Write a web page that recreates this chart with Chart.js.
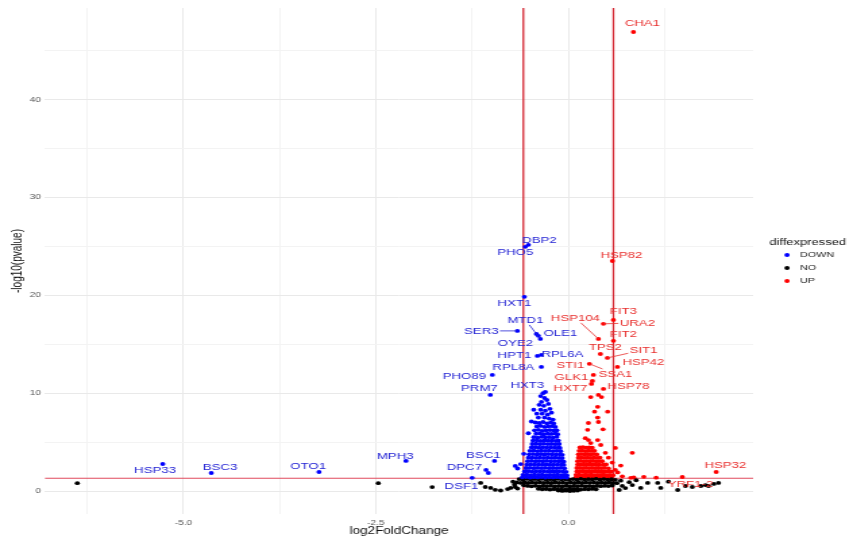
<!DOCTYPE html>
<html><head><meta charset="utf-8">
<script src="https://cdn.jsdelivr.net/npm/chart.js@4.4.1/dist/chart.umd.min.js"></script>
<style>
html,body{margin:0;padding:0;background:#fff;overflow:hidden;width:853px;height:540px;}
#wrap{position:absolute;left:0;top:0;width:632px;height:540px;transform:scaleX(1.34968);transform-origin:0 0;}
canvas{display:block;}
</style></head><body>
<div id="wrap"><canvas id="c" width="632" height="540"></canvas></div>
<script>
// ---------- data (log2FoldChange, -log10(pvalue)) ----------
const groups = ['DOWN', 'NO', 'UP'];
const groupColors = ['#0000ff', '#000000', '#ff0000'];

const xTickValues = [-6.25, -5, -3.75, -2.5, -1.25, 0, 1.25];
const xTickLabels = ['', '-5.0', '', '-2.5', '', '0.0', ''];
const yTickValues = [0, 5, 10, 15, 20, 25, 30, 35, 40, 45];
const yTickLabels = ['0', '', '10', '', '20', '', '30', '', '40', ''];

const lfcCutoffs = [-0.585, 0.585];
const pCutoff = 1.301;

// labelled genes
const geneNames = ['CHA1','DBP2','PHO5','HSP82','HXT1','MTD1','SER3','OLE1','OYE2','HPT1','RPL6A','RPL8A','PHO89','PRM7','HXT3','HSP104','FIT3','URA2','FIT2','TPS2','SIT1','HSP42','STI1','SSA1','GLK1','HXT7','HSP78','HSP33','BSC3','OTO1','MPH3','BSC1','DPC7','DSF1','HSP32','YRF1-2'];
const geneGroup = ['UP','DOWN','DOWN','UP','DOWN','DOWN','DOWN','DOWN','DOWN','DOWN','DOWN','DOWN','DOWN','DOWN','DOWN','UP','UP','UP','UP','UP','UP','UP','UP','UP','UP','UP','UP','DOWN','DOWN','DOWN','DOWN','DOWN','DOWN','DOWN','UP','UP'];
const geneLfc = [0.845,-0.52,-0.56,0.572,-0.572,-0.364,-0.663,-0.39,-0.416,-0.403,-0.351,-0.351,-0.988,-1.014,-0.30,0.39,0.585,0.455,0.585,0.416,0.507,0.637,0.325,0.273,0.312,0.30,0.455,-5.27,-4.64,-3.24,-2.11,-0.96,-1.07,-1.25,1.92,1.48];
const geneLogP = [46.9,25.15,24.95,23.5,19.84,15.54,16.36,15.85,16.05,13.8,13.9,12.68,11.86,9.82,10.12,15.54,17.48,17.08,15.34,14.0,13.6,12.68,11.86,12.99,11.25,10.94,10.43,2.76,1.84,1.94,3.07,3.07,2.15,1.35,1.94,1.43];
const labelLfc = [0.962,-0.377,-0.689,0.689,-0.702,-0.559,-1.131,-0.104,-0.689,-0.702,-0.078,-0.715,-1.352,-1.157,-0.533,0.091,0.715,0.897,0.715,0.481,0.975,0.975,0.026,0.611,0.039,0.026,0.78,-5.37,-4.525,-3.38,-2.25,-1.105,-1.352,-1.39,2.04,1.586];
const labelLogP = [47.75,25.66,24.34,24.13,19.22,17.48,16.36,16.16,15.13,13.9,14.0,12.68,11.76,10.53,10.84,17.69,18.4,17.18,16.05,14.72,14.42,13.19,12.88,11.96,11.66,10.53,10.74,2.15,2.45,2.56,3.58,3.68,2.45,0.51,2.66,0.72];
const segmentGenes = ['MTD1','SER3','HSP104','URA2','SIT1','SSA1'];

const downPoints = [
[-0.33,10.0],[-0.36,9.7],[-0.31,9.5],[-0.35,9.1],[-0.28,9.3],[-0.38,8.8],[-0.32,8.7],[-0.26,8.9],[-0.45,8.3],[-0.36,8.3],[-0.30,8.2],[-0.24,8.4],[-0.41,7.9],[-0.34,7.9],[-0.27,7.8],[-0.22,8.0],[-0.48,7.1],[-0.39,7.5],[-0.31,7.5],[-0.25,7.4],[-0.20,7.3],
[-0.43,7.0],[-0.38,6.95],[-0.33,7.05],[-0.28,6.9],[-0.23,7.0],[-0.19,6.9],
[-0.41,6.6],[-0.36,6.65],[-0.31,6.55],[-0.26,6.6],[-0.21,6.62],[-0.17,6.55],
[-0.44,6.2],[-0.39,6.25],[-0.34,6.15],[-0.29,6.2],[-0.24,6.22],[-0.19,6.18],[-0.15,6.2],
[-0.52,5.9],[-0.42,5.85],[-0.37,5.88],[-0.32,5.8],[-0.27,5.86],[-0.22,5.83],[-0.17,5.87],[-0.14,5.8],
[-0.45,5.5],[-0.40,5.45],[-0.35,5.52],[-0.30,5.48],[-0.25,5.5],[-0.20,5.46],[-0.15,5.52],
[-0.46,5.15],[-0.41,5.18],[-0.36,5.12],[-0.31,5.16],[-0.26,5.14],[-0.21,5.17],[-0.16,5.12],[-0.13,5.15],
[-0.47,4.8],[-0.42,4.83],[-0.37,4.78],[-0.32,4.82],[-0.27,4.79],[-0.22,4.81],[-0.17,4.78],[-0.12,4.8],
[-0.48,4.45],[-0.43,4.47],[-0.38,4.43],[-0.33,4.46],[-0.28,4.44],[-0.23,4.47],[-0.18,4.43],[-0.13,4.45],[-0.11,4.4],
[-0.50,4.1],[-0.45,4.12],[-0.40,4.08],[-0.35,4.11],[-0.30,4.09],[-0.25,4.12],[-0.20,4.08],[-0.15,4.1],[-0.10,4.07],
[-0.58,3.8],[-0.51,3.75],[-0.46,3.77],[-0.41,3.73],[-0.36,3.76],[-0.31,3.74],[-0.26,3.77],[-0.21,3.73],[-0.16,3.75],[-0.11,3.74],[-0.08,3.7],
[-0.52,3.4],[-0.47,3.42],[-0.42,3.38],[-0.37,3.41],[-0.32,3.39],[-0.27,3.42],[-0.22,3.38],[-0.17,3.4],[-0.12,3.39],[-0.08,3.36],
[-0.53,3.05],[-0.48,3.07],[-0.43,3.03],[-0.38,3.06],[-0.33,3.04],[-0.28,3.07],[-0.23,3.03],[-0.18,3.05],[-0.13,3.04],[-0.09,3.06],[-0.06,3.0],
[-0.62,2.75],[-0.54,2.7],[-0.49,2.72],[-0.44,2.68],[-0.39,2.71],[-0.34,2.69],[-0.29,2.72],[-0.24,2.68],[-0.19,2.7],[-0.14,2.69],[-0.09,2.71],[-0.06,2.66],
[-0.55,2.35],[-0.50,2.37],[-0.45,2.33],[-0.40,2.36],[-0.35,2.34],[-0.30,2.37],[-0.25,2.33],[-0.20,2.35],[-0.15,2.34],[-0.10,2.36],[-0.05,2.32],
[-0.57,2.0],[-0.52,2.02],[-0.47,1.98],[-0.42,2.01],[-0.37,1.99],[-0.32,2.02],[-0.27,1.98],[-0.22,2.0],[-0.17,1.99],[-0.12,2.01],[-0.07,1.98],[-0.03,1.96],
[-0.59,1.65],[-0.54,1.67],[-0.49,1.63],[-0.44,1.66],[-0.39,1.64],[-0.34,1.67],[-0.29,1.63],[-0.24,1.65],[-0.19,1.64],[-0.14,1.66],[-0.09,1.63],[-0.05,1.65],[-0.02,1.6],
[-0.60,1.4],[-0.55,1.42],[-0.50,1.38],[-0.45,1.41],[-0.40,1.39],[-0.35,1.42],[-0.30,1.38],[-0.25,1.4],[-0.20,1.39],[-0.15,1.41],[-0.10,1.38],[-0.06,1.4],[-0.02,1.37],
[-0.69,2.56],[-0.66,2.3],[-1.04,1.84]
];

const noPoints = [
[-0.64,1.22],[-0.59,1.17],[-0.54,1.23],[-0.49,1.16],[-0.44,1.22],[-0.39,1.18],[-0.34,1.24],[-0.29,1.17],[-0.24,1.21],[-0.19,1.16],[-0.14,1.23],[-0.09,1.18],[-0.04,1.2],[0.01,1.15],[0.06,1.22],[0.11,1.17],[0.16,1.23],[0.21,1.16],[0.26,1.21],[0.31,1.18],[0.36,1.24],[0.41,1.17],[0.46,1.22],[0.51,1.16],[0.56,1.2],[0.61,1.14],
[-0.67,0.88],[-0.62,0.83],[-0.57,0.87],[-0.52,0.82],[-0.47,0.86],[-0.42,0.84],[-0.37,0.88],[-0.32,0.83],[-0.27,0.86],[-0.22,0.82],[-0.17,0.87],[-0.12,0.84],[-0.07,0.85],[-0.02,0.81],[0.03,0.86],[0.08,0.83],[0.13,0.88],[0.18,0.82],[0.23,0.86],[0.28,0.84],[0.33,0.87],[0.38,0.82],[0.43,0.86],[0.48,0.83],[0.53,0.88],[0.58,0.82],[0.63,0.8],
[-0.58,0.58],[-0.53,0.52],[-0.48,0.48],[-0.43,0.53],[-0.38,0.47],[-0.33,0.51],[-0.28,0.49],[-0.23,0.53],[-0.18,0.47],[-0.13,0.5],[-0.08,0.48],[-0.03,0.52],[0.02,0.47],[0.07,0.51],[0.12,0.49],[0.17,0.53],[0.22,0.48],[0.27,0.5],[0.32,0.47],[0.37,0.52],[0.42,0.49],[0.47,0.53],[0.52,0.5],[0.57,0.56],
[-0.39,0.22],[-0.34,0.17],[-0.29,0.2],[-0.24,0.15],[-0.19,0.19],[-0.14,0.16],[-0.09,0.2],[-0.04,0.15],[0.01,0.18],[0.06,0.16],[0.11,0.2],[0.16,0.15],[0.21,0.19],[0.26,0.17],[0.31,0.21],[0.36,0.18],
[-0.13,0.04],[-0.08,0.01],[-0.03,0.03],[0.02,0.0],[0.07,0.02],[0.12,0.04],
[-6.38,0.8],[-2.47,0.8],[-1.77,0.4],[-1.14,0.82],[-1.08,0.41],[-1.01,0.31],[-0.95,0.12],[-0.88,0.05],[-0.79,0.2],[-0.75,0.31],[-0.69,0.41],[-0.72,0.95],[-0.70,0.65],[-0.66,0.25],
[0.68,1.05],[0.70,0.52],[0.74,0.3],[0.83,0.61],[0.88,1.1],[0.94,0.31],[1.03,0.82],[1.16,0.82],[1.20,0.31],[1.30,0.95],[1.42,0.1],[1.52,0.51],[1.61,0.41],[1.72,0.51],[1.78,0.61],[1.82,0.51],[1.89,0.72],[1.95,0.82],[0.66,0.1],[0.79,0.9]
];

const upPoints = [
[0.39,9.82],[0.29,9.6],[0.43,9.6],[0.38,8.6],[0.51,8.1],[0.34,8.1],[0.38,7.5],[0.26,6.95],[0.39,7.05],[0.25,6.25],[0.45,6.3],[0.22,5.4],[0.26,5.2],[0.38,5.2],[0.29,4.9],[0.42,4.7],[0.83,3.9],[0.48,3.9],[0.52,3.4],[0.57,2.9],[0.61,2.15],[0.81,1.35],[0.61,4.4],[0.68,2.6],[0.64,1.9],[0.70,1.5],[0.85,1.38],[0.98,1.45],[1.14,1.36],
[0.15,4.45],[0.19,4.48],[0.23,4.43],[0.27,4.46],[0.31,4.42],
[0.14,4.1],[0.18,4.12],[0.22,4.08],[0.26,4.11],[0.30,4.09],[0.34,4.1],
[0.13,3.75],[0.17,3.77],[0.21,3.73],[0.25,3.76],[0.29,3.74],[0.33,3.77],[0.37,3.73],
[0.13,3.4],[0.17,3.42],[0.21,3.38],[0.25,3.41],[0.29,3.39],[0.33,3.42],[0.37,3.38],[0.41,3.4],
[0.12,3.05],[0.16,3.07],[0.20,3.03],[0.24,3.06],[0.28,3.04],[0.32,3.07],[0.36,3.03],[0.40,3.05],[0.44,3.04],
[0.12,2.7],[0.16,2.72],[0.20,2.68],[0.24,2.71],[0.28,2.69],[0.32,2.72],[0.36,2.68],[0.40,2.7],[0.45,2.69],[0.49,2.71],
[0.11,2.35],[0.15,2.37],[0.19,2.33],[0.23,2.36],[0.27,2.34],[0.31,2.37],[0.35,2.33],[0.39,2.35],[0.43,2.34],[0.47,2.36],[0.52,2.32],
[0.11,2.0],[0.15,2.02],[0.19,1.98],[0.23,2.01],[0.27,1.99],[0.31,2.02],[0.35,1.98],[0.39,2.0],[0.43,1.99],[0.47,2.01],[0.51,1.98],[0.55,2.0],
[0.10,1.65],[0.14,1.67],[0.18,1.63],[0.22,1.66],[0.26,1.64],[0.30,1.67],[0.34,1.63],[0.38,1.65],[0.42,1.64],[0.46,1.66],[0.50,1.63],[0.54,1.65],[0.58,1.62],
[0.10,1.4],[0.14,1.42],[0.18,1.38],[0.22,1.41],[0.26,1.39],[0.30,1.42],[0.34,1.38],[0.38,1.4],[0.42,1.39],[0.46,1.41],[0.50,1.38],[0.55,1.4]
];

// ---------- build datasets ----------
const bulk = { DOWN: downPoints, NO: noPoints, UP: upPoints };
const datasets = groups.map((g, gi) => {
  const pts = bulk[g].map(p => ({ x: p[0], y: p[1] }));
  geneNames.forEach((n, i) => { if (geneGroup[i] === g) pts.push({ x: geneLfc[i], y: geneLogP[i] }); });
  return { label: g, data: pts, backgroundColor: groupColors[gi], borderWidth: 0, pointRadius: 1.9 };
});

const FAM = '"Liberation Sans", Arial, Helvetica, sans-serif';
const majorGrid = '#e9e9e9', minorGrid = '#f3f3f3';

const refLines = {
  id: 'refLines',
  beforeDatasetsDraw(chart) {
    const { ctx, chartArea: a, scales: { x, y } } = chart;
    ctx.save();
    ctx.strokeStyle = '#d42a36';
    ctx.lineWidth = 1.3;
    lfcCutoffs.forEach(v => {
      const px = x.getPixelForValue(v);
      ctx.beginPath(); ctx.moveTo(px, a.top); ctx.lineTo(px, a.bottom); ctx.stroke();
    });
    ctx.strokeStyle = '#e04a5c';
    ctx.lineWidth = 1.2;
    const py = y.getPixelForValue(pCutoff);
    ctx.beginPath(); ctx.moveTo(a.left, py); ctx.lineTo(a.right, py); ctx.stroke();
    ctx.restore();
  }
};

const geneLabels = {
  id: 'geneLabels',
  afterDatasetsDraw(chart) {
    const { ctx, scales: { x, y } } = chart;
    ctx.save();
    ctx.font = '9.8px ' + FAM;
    ctx.textAlign = 'center';
    ctx.textBaseline = 'middle';
    geneNames.forEach((n, i) => {
      const col = geneGroup[i] === 'UP' ? '#e8302e' : '#2424d4';
      const lx = x.getPixelForValue(labelLfc[i]), ly = y.getPixelForValue(labelLogP[i]);
      if (segmentGenes.includes(n)) {
        const px = x.getPixelForValue(geneLfc[i]), py = y.getPixelForValue(geneLogP[i]);
        const w = ctx.measureText(n).width / 2 + 1, h = 5;
        const dx = px - lx, dy = py - ly;
        const t = Math.min(dx !== 0 ? w / Math.abs(dx) : 1e9, dy !== 0 ? h / Math.abs(dy) : 1e9);
        ctx.strokeStyle = col; ctx.lineWidth = 0.8;
        ctx.beginPath(); ctx.moveTo(lx + dx * t, ly + dy * t); ctx.lineTo(px, py); ctx.stroke();
      }
      ctx.fillStyle = col;
      ctx.fillText(n, lx, ly);
    });
    ctx.restore();
  }
};

const sideLegend = {
  id: 'sideLegend',
  afterDraw(chart) {
    const { ctx } = chart;
    ctx.save();
    ctx.textAlign = 'left';
    ctx.textBaseline = 'middle';
    ctx.fillStyle = '#111';
    ctx.font = '9.6px ' + FAM;
    ctx.fillText('diffexpressed', 570, 242);
    ctx.font = '8px ' + FAM;
    groups.forEach((g, i) => {
      const yy = 255 + i * 13;
      ctx.fillStyle = groupColors[i];
      ctx.beginPath(); ctx.arc(583.1, yy, 2, 0, Math.PI * 2); ctx.fill();
      ctx.fillStyle = '#222';
      ctx.fillText(g, 592.7, yy);
    });
    ctx.restore();
  }
};

new Chart(document.getElementById('c'), {
  type: 'scatter',
  data: { datasets },
  options: {
    responsive: false,
    animation: false,
    events: [],
    layout: { padding: { top: 8, right: 74, left: 0, bottom: 0 } },
    plugins: { legend: { display: false }, tooltip: { enabled: false } },
    scales: {
      x: {
        type: 'linear', min: -6.8, max: 2.4,
        afterBuildTicks: s => { s.ticks = xTickValues.map(v => ({ value: v })); },
        afterFit: s => { s.height = 26; },
        grid: { color: c => (c.tick && xTickLabels[xTickValues.indexOf(c.tick.value)] !== '') ? majorGrid : minorGrid, drawTicks: false, lineWidth: 1 },
        border: { display: false },
        ticks: { autoSkip: false, maxRotation: 0, padding: 4, color: '#555', font: { size: 7.5, family: FAM },
                 callback: v => xTickLabels[xTickValues.indexOf(v)] },
        title: { display: true, text: 'log2FoldChange', color: '#111', font: { size: 10, family: FAM }, padding: { top: 0, bottom: 3 } }
      },
      y: {
        type: 'linear', min: -2.35, max: 49.35,
        afterBuildTicks: s => { s.ticks = yTickValues.map(v => ({ value: v })); },
        afterFit: s => { s.width = 33.33; },
        grid: { color: c => (c.tick && yTickLabels[yTickValues.indexOf(c.tick.value)] !== '') ? majorGrid : minorGrid, drawTicks: false, lineWidth: 1 },
        border: { display: false },
        ticks: { autoSkip: false, padding: 3, color: '#555', font: { size: 7.5, family: FAM },
                 callback: v => yTickLabels[yTickValues.indexOf(v)] },
        title: { display: true, text: '-log10(pvalue)', color: '#111', font: { size: 10, family: FAM }, padding: { top: 7.3, bottom: 0 } }
      }
    }
  },
  plugins: [refLines, geneLabels, sideLegend]
});
</script>
</body></html>
